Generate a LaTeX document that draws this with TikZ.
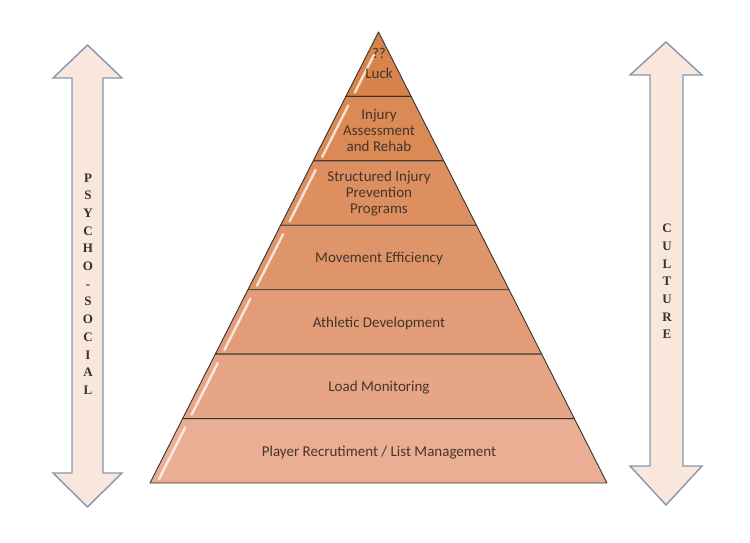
\documentclass[tikz,border=0pt]{standalone}
\usepackage{fontspec}
\setmainfont{Liberation Serif}
\newfontfamily\calib{Carlito}
\definecolor{txt}{HTML}{45352B}
\definecolor{arrfill}{HTML}{F9E6DC}
\definecolor{arredge}{HTML}{8796AE}
\definecolor{lay1}{HTML}{D9834C}
\definecolor{lay2}{HTML}{DB8955}
\definecolor{lay3}{HTML}{DD8F5F}
\definecolor{lay4}{HTML}{DF956A}
\definecolor{lay5}{HTML}{E29D78}
\definecolor{lay6}{HTML}{E6A685}
\definecolor{lay7}{HTML}{EAAE94}
\tikzset{
  layerbox/.style={draw=black!80, line width=0.9pt, line join=round},
  shine/.style={draw=white, line width=2.4pt, opacity=0.75, line cap=round},
  laytext/.style={font=\calib\fontsize{15}{16}\selectfont, text=txt, align=center, inner sep=0pt},
  bigarrow/.style={draw=arredge, fill=arrfill, line width=1.4pt, line join=miter},
  arrtext/.style={font=\bfseries\fontsize{13}{17.7}\selectfont, text=black!80, align=center, inner sep=0pt}
}
\begin{document}
\begin{tikzpicture}[x=1pt,y=-1pt]
\useasboundingbox (0,0) rectangle (750,542);
% pyramid layers
\foreach \k/\c in {0/lay1,1/lay2,2/lay3,3/lay4,4/lay5,5/lay6,6/lay7}{
  \pgfmathsetmacro{\yt}{32+\k*64.43}
  \pgfmathsetmacro{\yb}{32+(\k+1)*64.43}
  \pgfmathsetmacro{\ht}{(\yt-32)/451*228.5}
  \pgfmathsetmacro{\hb}{(\yb-32)/451*228.5}
  \pgfmathsetmacro{\xtl}{378.5-\ht}
  \pgfmathsetmacro{\xtr}{378.5+\ht}
  \pgfmathsetmacro{\xbl}{378.5-\hb}
  \pgfmathsetmacro{\xbr}{378.5+\hb}
  \fill[\c, layerbox] (\xtl,\yt) -- (\xtr,\yt) -- (\xbr,\yb) -- (\xbl,\yb) -- cycle;
  \pgfmathsetmacro{\ysa}{\yb-4}
  \pgfmathsetmacro{\yse}{\yt+9+(\k==0)*14}
  \pgfmathsetmacro{\xsa}{378.5-(\ysa-32)/451*228.5+7}
  \pgfmathsetmacro{\xse}{378.5-(\yse-32)/451*228.5+7}
  \draw[shine] (\xsa,\ysa) -- (\xse,\yse);
}
% texts
\node[laytext] (luck) at (379,63) {??\\[4pt]Luck};
\node[laytext] (injury) at (379,130) {Injury\\Assessment\\and Rehab};
\node[laytext] (struct) at (379,194) {Structured Injury\\Prevention\\Programs};
\node[laytext] (move) at (379,259) {Movement Efficiency};
\node[laytext] (ath) at (379,323) {Athletic Development};
\node[laytext] (load) at (379,388) {Load Monitoring};
\node[laytext] (player) at (379,453) {Player Recrutiment / List Management};
% left arrow
\draw[bigarrow] (87.5,45) -- (122,78) -- (103,78) -- (103,473) -- (122,473) -- (87.5,507)
  -- (53,473) -- (72,473) -- (72,78) -- (53,78) -- cycle;
\node[arrtext] (psycho) at (88,284) {P\\S\\Y\\C\\H\\O\\-\\S\\O\\C\\I\\A\\L};
% right arrow
\draw[bigarrow] (666,42) -- (702,75) -- (683,75) -- (683,466) -- (702,466) -- (666,505)
  -- (630,466) -- (650,466) -- (650,75) -- (630,75) -- cycle;
\node[arrtext] (culture) at (667,281.5) {C\\U\\L\\T\\U\\R\\E};
\end{tikzpicture}
\end{document}
